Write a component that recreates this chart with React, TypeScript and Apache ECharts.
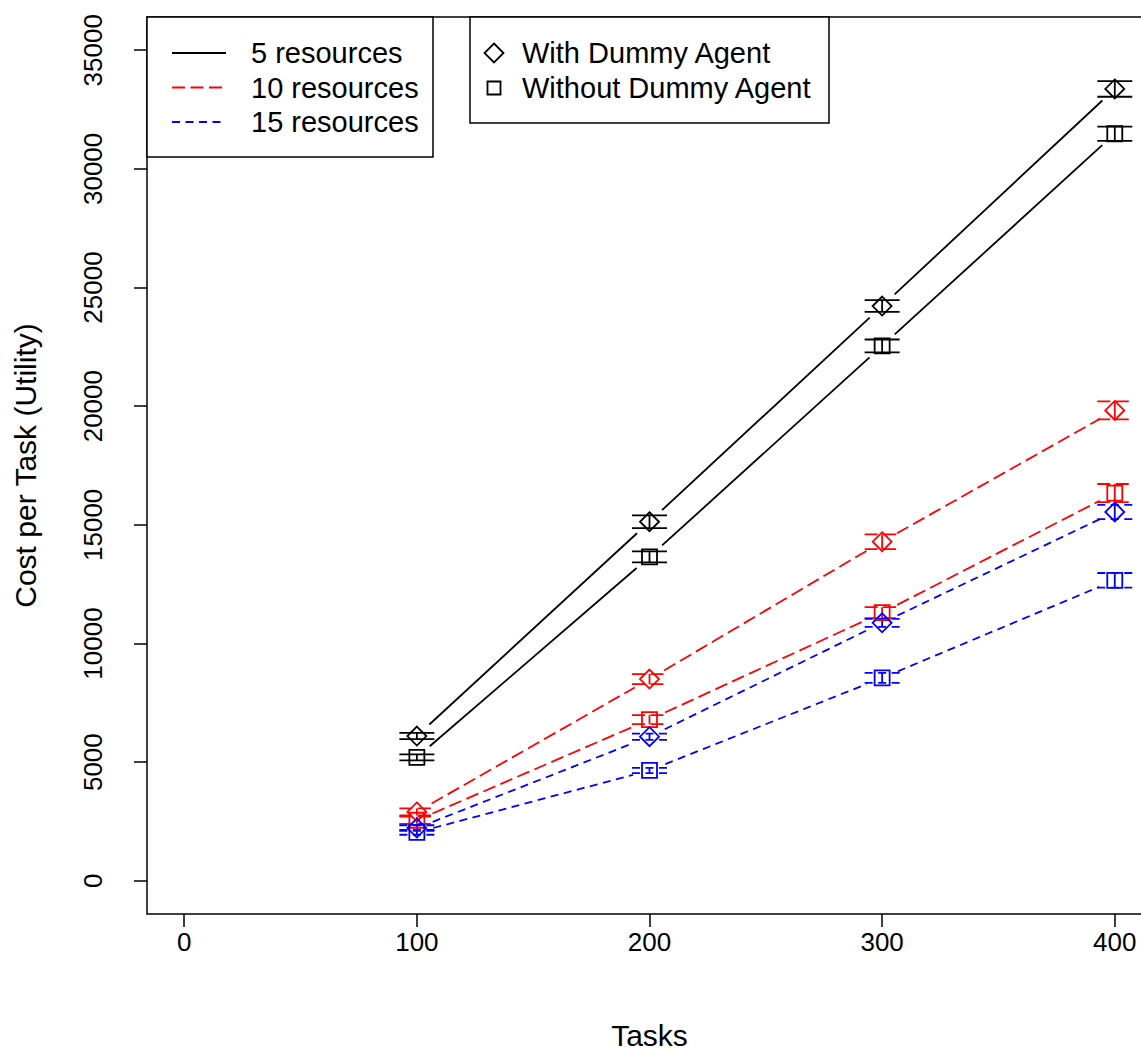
import React, { useEffect, useRef } from "react";
import * as echarts from "echarts";

const tasks = [100, 200, 300, 400];
const xTicks = [0, 100, 200, 300, 400];
const yTicks = [0, 5000, 10000, 15000, 20000, 25000, 30000, 35000];

const with5 = [6100, 15130, 24220, 33370];
const with5Err = [130, 270, 250, 330];
const without5 = [5200, 13650, 22540, 31480];
const without5Err = [130, 230, 270, 300];

const with10 = [2900, 8500, 14290, 19820];
const with10Err = [150, 210, 310, 380];
const without10 = [2550, 6790, 11300, 16340];
const without10Err = [150, 190, 230, 380];

const with15 = [2220, 6070, 10870, 15540];
const with15Err = [120, 130, 170, 300];
const without15 = [2040, 4650, 8550, 12660];
const without15Err = [100, 110, 210, 310];

const groups = [
  { name: "5 resources", color: "#000000", dash: null as number[] | null, w: with5, wErr: with5Err, wo: without5, woErr: without5Err },
  { name: "10 resources", color: "#FF0000", dash: [13, 5.5], w: with10, wErr: with10Err, wo: without10, woErr: without10Err },
  { name: "15 resources", color: "#0000FF", dash: [8, 5.5], w: with15, wErr: with15Err, wo: without15, woErr: without15Err },
];

const FONT = "'Liberation Sans', Arial, Helvetica, sans-serif";
const LW = 1.8;
const TICK_FS = 26;
const LEG_FS = 29;
const TITLE_FS = 30;

function lineSeries(vals: number[], color: string, dash: number[] | null) {
  const segs = tasks.slice(0, -1).map((t, i) => [t, vals[i], tasks[i + 1], vals[i + 1]]);
  return {
    type: "custom",
    coordinateSystem: "cartesian2d",
    encode: { x: [0, 2], y: [1, 3] },
    silent: true,
    data: segs,
    renderItem: (params: any, api: any) => {
      const p1 = api.coord([api.value(0), api.value(1)]);
      const p2 = api.coord([api.value(2), api.value(3)]);
      const dx = p2[0] - p1[0];
      const dy = p2[1] - p1[1];
      const len = Math.hypot(dx, dy);
      const g = 17;
      const ux = dx / len;
      const uy = dy / len;
      return {
        type: "line",
        shape: { x1: p1[0] + ux * g, y1: p1[1] + uy * g, x2: p2[0] - ux * g, y2: p2[1] - uy * g },
        style: { stroke: color, lineWidth: LW, lineDash: dash || undefined, fill: null },
      };
    },
  };
}

function errSeries(vals: number[], errs: number[], color: string, dash: number[] | null) {
  const data = tasks.map((t, i) => [t, vals[i] - errs[i], vals[i] + errs[i]]);
  return {
    type: "custom",
    coordinateSystem: "cartesian2d",
    encode: { x: 0, y: [1, 2] },
    silent: true,
    data,
    renderItem: (params: any, api: any) => {
      const lo = api.coord([api.value(0), api.value(1)]);
      const hi = api.coord([api.value(0), api.value(2)]);
      const hw = 17.5;
      const st = { stroke: color, lineWidth: LW, lineDash: dash || undefined, fill: null };
      return {
        type: "group",
        children: [
          { type: "line", shape: { x1: lo[0], y1: lo[1], x2: hi[0], y2: hi[1] }, style: { stroke: color, lineWidth: LW, fill: null } },
          { type: "line", shape: { x1: lo[0] - hw, y1: lo[1], x2: lo[0] + hw, y2: lo[1] }, style: st },
          { type: "line", shape: { x1: hi[0] - hw, y1: hi[1], x2: hi[0] + hw, y2: hi[1] }, style: st },
        ],
      };
    },
  };
}

function markSeries(vals: number[], color: string, symbol: string, size: number) {
  return {
    type: "scatter",
    symbol,
    symbolSize: size,
    silent: true,
    data: tasks.map((t, i) => [t, vals[i]]),
    itemStyle: { color: "rgba(0,0,0,0)", borderColor: color, borderWidth: LW, opacity: 1 },
    z: 5,
  };
}

const App = () => {
  const ref = useRef<HTMLDivElement>(null);
  useEffect(() => {
    if (!ref.current) return;
    const chart = echarts.init(ref.current, null, { renderer: "svg" });
    const series: any[] = [];
    groups.forEach((g) => {
      series.push(lineSeries(g.w, g.color, g.dash));
      series.push(lineSeries(g.wo, g.color, g.dash));
      series.push(errSeries(g.w, g.wErr, g.color, g.dash));
      series.push(errSeries(g.wo, g.woErr, g.color, g.dash));
      series.push(markSeries(g.w, g.color, "diamond", 19));
      series.push(markSeries(g.wo, g.color, "rect", 15));
    });

    const legendItems: any[] = [];
    legendItems.push({
      type: "rect",
      shape: { x: 147, y: 17, width: 286, height: 140 },
      style: { fill: "#fff", stroke: "#000", lineWidth: 1.5 },
      z: 10,
    });
    groups.forEach((g, i) => {
      const y = 53 + i * 34.5;
      legendItems.push({
        type: "line",
        shape: { x1: 172, y1: y, x2: 226, y2: y },
        style: { stroke: g.color, lineWidth: LW, lineDash: g.dash || undefined },
        z: 11,
      });
      legendItems.push({
        type: "text",
        x: 251,
        y,
        style: { text: g.name, font: `${LEG_FS}px ${FONT}`, fill: "#000", verticalAlign: "middle", align: "left" },
        z: 11,
      });
    });
    legendItems.push({
      type: "rect",
      shape: { x: 470, y: 17, width: 359, height: 106 },
      style: { fill: "#fff", stroke: "#000", lineWidth: 1.5 },
      z: 10,
    });
    legendItems.push({
      type: "polygon",
      shape: { points: [[494, 43.5], [503.5, 53], [494, 62.5], [484.5, 53]] },
      style: { fill: "none", stroke: "#000", lineWidth: LW },
      z: 11,
    });
    legendItems.push({
      type: "rect",
      shape: { x: 487.5, y: 81.5, width: 13, height: 13 },
      style: { fill: "none", stroke: "#000", lineWidth: LW },
      z: 11,
    });
    legendItems.push({
      type: "text",
      x: 522,
      y: 53,
      style: { text: "With Dummy Agent", font: `${LEG_FS}px ${FONT}`, fill: "#000", verticalAlign: "middle", align: "left" },
      z: 11,
    });
    legendItems.push({
      type: "text",
      x: 522,
      y: 88,
      style: { text: "Without Dummy Agent", font: `${LEG_FS}px ${FONT}`, fill: "#000", verticalAlign: "middle", align: "left" },
      z: 11,
    });

    chart.setOption({
      animation: false,
      backgroundColor: "#ffffff",
      textStyle: { fontFamily: FONT },
      grid: {
        left: 147,
        top: 17,
        width: 1005,
        height: 902,
        show: true,
        borderColor: "#000",
        borderWidth: 1.5,
        backgroundColor: "transparent",
        containLabel: false,
      },
      xAxis: {
        type: "value",
        min: -16,
        max: 416,
        name: "Tasks",
        nameLocation: "middle",
        nameGap: 106,
        nameTextStyle: { fontSize: TITLE_FS, color: "#000", fontFamily: FONT },
        axisLine: { show: false, onZero: false },
        axisTick: { show: true, length: 13, lineStyle: { color: "#000", width: 1.5 }, customValues: xTicks },
        axisLabel: { show: true, margin: 15, fontSize: TICK_FS, color: "#000", fontFamily: FONT, customValues: xTicks, formatter: (v: number) => String(v) },
        splitLine: { show: false },
      },
      yAxis: {
        type: "value",
        min: -1400,
        max: 36400,
        name: "Cost per Task (Utility)",
        nameLocation: "middle",
        nameRotate: 90,
        nameGap: 107,
        nameTextStyle: { fontSize: TITLE_FS, color: "#000", fontFamily: FONT },
        axisLine: { show: false, onZero: false },
        axisTick: { show: true, length: 13, lineStyle: { color: "#000", width: 1.5 }, customValues: yTicks },
        axisLabel: { show: true, rotate: 90, margin: 41, fontSize: TICK_FS, color: "#000", fontFamily: FONT, customValues: yTicks, formatter: (v: number) => String(v) },
        splitLine: { show: false },
      },
      graphic: legendItems,
      series,
    });
    return () => chart.dispose();
  }, []);
  return <div ref={ref} style={{ position: "fixed", left: 0, top: 0, width: 1170, height: 1055 }} />;
};

export default App;
